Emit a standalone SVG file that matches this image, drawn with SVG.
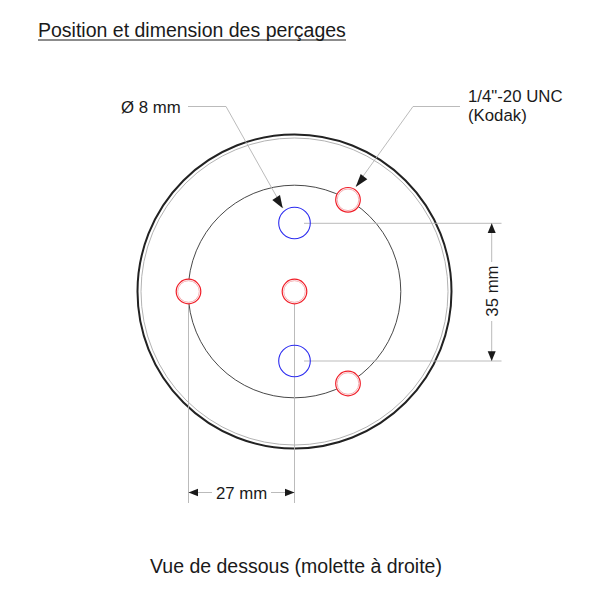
<svg xmlns="http://www.w3.org/2000/svg" width="600" height="600" viewBox="0 0 600 600">
<style>
text{font-family:"Liberation Sans",Arial,sans-serif;font-size:16.800px;fill:#1a1a1a}
.big{font-size:19.500px}
.dim{fill:none;stroke:#b3b3b3;stroke-width:.9}
.red{fill:#fff;stroke:#f01e28;stroke-width:1.200}
.redi{fill:none;stroke:#f5b0b4;stroke-width:1}
.blue{fill:none;stroke:#2c2cf0;stroke-width:1.100}
.ah{fill:#1a1a1a;stroke:none}
</style>
<rect width="600" height="600" fill="#fff"/>
<g id="title"><text class="big" x="38" y="37">Position et dimension des perçages</text><line x1="38" y1="40" x2="346" y2="40" stroke="#1a1a1a" stroke-width="1"/></g>
<g id="body">
<circle cx="294.500" cy="291.500" r="157" fill="none" stroke="#222" stroke-width="2"/>
<circle cx="294.500" cy="291.500" r="153.500" fill="none" stroke="#b3b3b3" stroke-width="1"/>
<circle cx="294.500" cy="291.500" r="106.300" fill="none" stroke="#333" stroke-width=".9"/>
</g>
<g id="connectors">
<path class="dim" d="M188 106.500H226L283 208"/>
<path class="dim" d="M460 106.500H413L356 186"/>
<path class="dim" d="M304 223.300H501.500M304 361H501.500"/>
<path class="dim" d="M491.700 223V262M491.700 321V361"/>
<path class="dim" d="M188.500 304V503M294.500 304V503"/>
<path class="dim" d="M188.500 492.500H212M271 492.500H294.500"/>
<path class="ah" d="M282.700 208.300L272.300 200L280 195Z"/>
<path class="ah" d="M355.700 187L360.700 174L367.300 179.300Z"/>
<path class="ah" d="M491.700 223.300L487.700 233H495.700Z"/>
<path class="ah" d="M491.700 361L487.700 351.300H495.700Z"/>
<path class="ah" d="M188.500 492.500L198 488.700V496.300Z"/>
<path class="ah" d="M294.500 492.500L285 488.700V496.300Z"/>
</g>
<g id="hole-blue-top"><circle class="blue" cx="294.500" cy="223" r="15.800"/></g>
<g id="hole-blue-bottom"><circle class="blue" cx="294.500" cy="361" r="15.800"/></g>
<g id="hole-red-center"><circle class="red" cx="294.500" cy="291.500" r="12.300"/><circle class="redi" cx="294.500" cy="291.500" r="10.800"/></g>
<g id="hole-red-left"><circle class="red" cx="188.500" cy="291.500" r="12.300"/><circle class="redi" cx="188.500" cy="291.500" r="10.800"/></g>
<g id="hole-red-top"><circle class="red" cx="348" cy="199.800" r="12.300"/><circle class="redi" cx="348" cy="199.800" r="10.800"/></g>
<g id="hole-red-bottom"><circle class="red" cx="348" cy="383.500" r="12.300"/><circle class="redi" cx="348" cy="383.500" r="10.800"/></g>
<g id="labels">
<text x="121" y="112.500">Ø 8 mm</text>
<text x="468" y="102">1/4"-20 UNC</text>
<text x="468" y="120.500">(Kodak)</text>
<text x="216" y="498.500">27 mm</text>
<text transform="translate(498 316.700) rotate(-90)">35 mm</text>
<text class="big" x="150" y="572.500">Vue de dessous (molette à droite)</text>
</g>
</svg>
